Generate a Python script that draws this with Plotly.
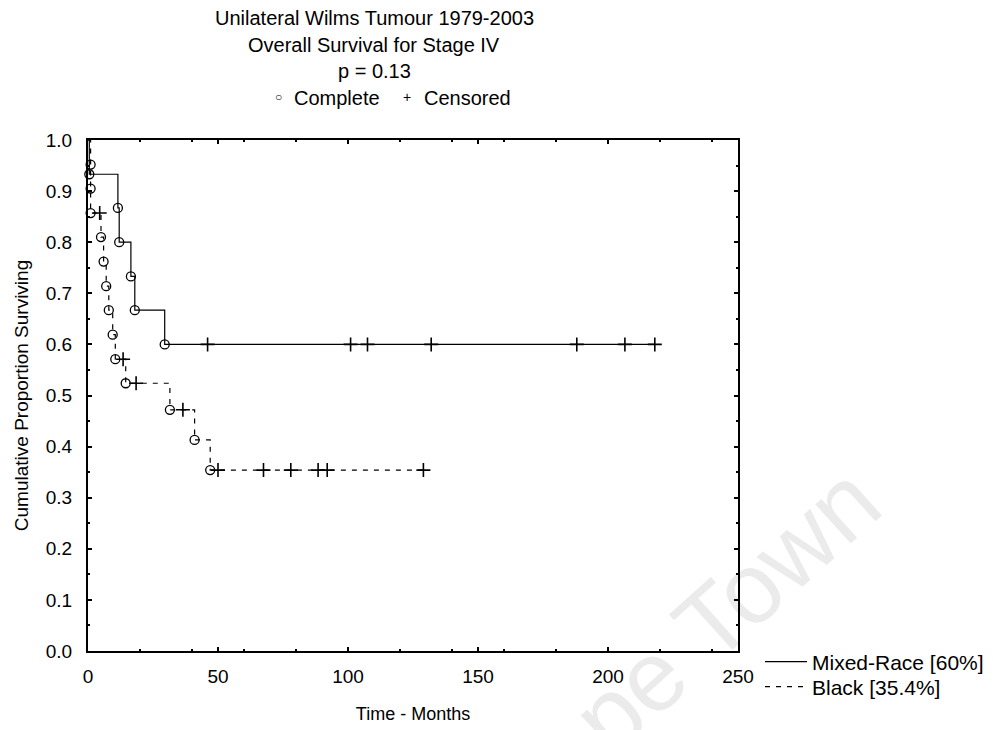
import plotly.graph_objects as go

# ---------------- data ----------------
mixed_event_time = [0.5, 11.5, 12, 16.5, 18, 29.5]
mixed_event_surv = [0.933, 0.867, 0.800, 0.733, 0.667, 0.600]
mixed_cens_time = [46, 101, 107.5, 132, 188, 206.5, 218]
mixed_cens_surv = [0.600, 0.600, 0.600, 0.600, 0.600, 0.600, 0.600]

black_event_time = [1, 1, 1, 5, 6, 7, 8, 9.5, 10.5, 14.5, 31.5, 41, 47]
black_event_surv = [0.952, 0.905, 0.857, 0.810, 0.762, 0.714, 0.667, 0.619,
                    0.571, 0.524, 0.472, 0.413, 0.354]
black_cens_time = [4.5, 13.5, 18.5, 36.5, 50, 67.5, 78, 88.5, 92, 129]
black_cens_surv = [0.857, 0.571, 0.524, 0.472, 0.354, 0.354, 0.354, 0.354,
                   0.354, 0.354]

series_names = ["Mixed-Race [60%]", "Black [35.4%]"]
title_lines = ["Unilateral Wilms Tumour 1979-2003",
               "Overall Survival for Stage IV",
               "p = 0.13"]
x_ticks = [0, 50, 100, 150, 200, 250]
y_ticks = [0.0, 0.1, 0.2, 0.3, 0.4, 0.5, 0.6, 0.7, 0.8, 0.9, 1.0]

FONT = "Liberation Sans, Arial, sans-serif"
OFF = 8  # page body margin
W, H = 993 - OFF, 730 - OFF
L, T = 88 - OFF, 140 - OFF
R = W - (738 - OFF)
B = H - (651 - OFF)


def step_points(et, es, ct, cs):
    pts = sorted([(0.0, 1.0)] + list(zip(et, es)) + list(zip(ct, cs)),
                 key=lambda p: p[0])
    return [p[0] for p in pts], [p[1] for p in pts]


def px_x(px):
    # reference-picture pixel -> paper coordinate
    return (px - OFF - L) / (W - L - R)


def px_y(py):
    return (H - B - (py - OFF)) / (H - T - B)


fig = go.Figure()

legends = ["legend", "legend2"]
for name, et, es, ct, cs, dash, lg in [
    (series_names[0], mixed_event_time, mixed_event_surv, mixed_cens_time, mixed_cens_surv, "solid", legends[0]),
    (series_names[1], black_event_time, black_event_surv, black_cens_time, black_cens_surv, "5px,6px", legends[1]),
]:
    xs, ys = step_points(et, es, ct, cs)
    fig.add_trace(go.Scatter(x=xs, y=ys, mode="lines", line_shape="hv",
                             line=dict(color="black", width=1.2, dash=dash),
                             name=name, showlegend=True, legend=lg, cliponaxis=False))
    fig.add_trace(go.Scatter(x=et, y=es, mode="markers", showlegend=False,
                             marker=dict(symbol="circle-open", size=9,
                                         color="black", line=dict(width=1.3)),
                             cliponaxis=False))
    fig.add_trace(go.Scatter(x=ct, y=cs, mode="markers", showlegend=False,
                             marker=dict(symbol="cross-thin-open", size=10,
                                         color="black", line=dict(width=1.6, color="black")),
                             cliponaxis=False))

annotations = []
for line, py in zip(title_lines, [18, 45, 71]):
    annotations.append(dict(text=line, x=px_x(374), y=px_y(py), xref="paper", yref="paper",
                            xanchor="center", yanchor="middle", showarrow=False,
                            font=dict(family=FONT, size=20, color="black")))
# marker key row
annotations += [
    dict(text="○", x=px_x(278), y=px_y(97), xref="paper", yref="paper", xanchor="center",
         yanchor="middle", showarrow=False, font=dict(family=FONT, size=12, color="black")),
    dict(text="Complete", x=px_x(292), y=px_y(98), xref="paper", yref="paper", xanchor="left",
         yanchor="middle", showarrow=False, font=dict(family=FONT, size=20, color="black")),
    dict(text="+", x=px_x(407), y=px_y(97), xref="paper", yref="paper", xanchor="center",
         yanchor="middle", showarrow=False, font=dict(family=FONT, size=14, color="black")),
    dict(text="Censored", x=px_x(422), y=px_y(98), xref="paper", yref="paper", xanchor="left",
         yanchor="middle", showarrow=False, font=dict(family=FONT, size=20, color="black")),
]
# faint watermark
annotations.append(dict(text="Cape Town", x=px_x(678), y=px_y(652), xref="paper", yref="paper",
                        xanchor="center", yanchor="middle", showarrow=False, textangle=-42,
                        font=dict(family=FONT, size=100, color="rgba(0,0,0,0.08)")))

axis_common = dict(showline=True, linecolor="black", linewidth=2, mirror="ticks",
                   ticks="inside", ticklen=4, tickwidth=1.5, tickcolor="black",
                   showgrid=False, zeroline=False,
                   tickfont=dict(family=FONT, size=19, color="black"),
                   minor=dict(ticks="inside", ticklen=2, tickcolor="black"))

legend_common = dict(xanchor="left", yanchor="middle", bgcolor="rgba(0,0,0,0)",
                     borderwidth=0, itemwidth=42,
                     font=dict(family=FONT, size=21, color="black"))

fig.update_layout(
    width=W, height=H,
    margin=dict(l=L, r=R, t=T, b=B, autoexpand=False),
    paper_bgcolor="white", plot_bgcolor="white",
    xaxis=dict(range=[0, 250], tickvals=x_ticks, ticktext=[str(v) for v in x_ticks],
               ticklabelstandoff=7,
               title=dict(text="Time - Months", standoff=22,
                          font=dict(family=FONT, size=18, color="black")),
               **axis_common),
    yaxis=dict(range=[0, 1.0], tickvals=y_ticks, ticktext=[f"{v:.1f}" for v in y_ticks],
               ticklabelstandoff=10,
               title=dict(text="Cumulative Proportion Surviving", standoff=12,
                          font=dict(family=FONT, size=19, color="black")),
               **axis_common),
    legend=dict(x=px_x(760), y=px_y(662), **legend_common),
    legend2=dict(x=px_x(760), y=px_y(687), **legend_common),
    annotations=annotations,
    showlegend=True,
)

fig.write_html("out.html")
